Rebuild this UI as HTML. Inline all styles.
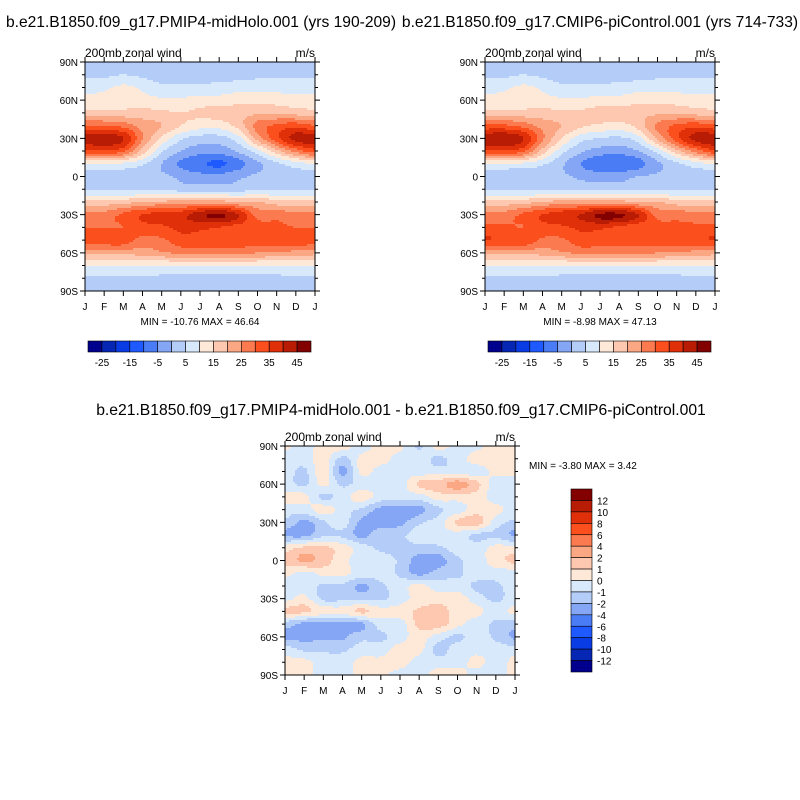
<!DOCTYPE html>
<html><head><meta charset="utf-8">
<style>
body{margin:0;background:#fff;}
svg{display:block;font-family:"Liberation Sans",Arial,sans-serif;}
</style></head><body>
<svg id="s" width="800" height="800" viewBox="0 0 800 800"></svg>
<script>
// ---- data ----
const months = ['J','F','M','A','M','J','J','A','S','O','N','D','J'];
const latLabels = ['90N','60N','30N','0','30S','60S','90S'];
const lats = [90,80,70,60,50,40,30,20,10,0,-10,-20,-30,-40,-50,-60,-70,-80,-90];
const levelsTop = [-25,-20,-15,-10,-5,0,5,10,15,20,25,30,35,40,45];
const levelsDiff = [-12,-10,-8,-6,-4,-2,-1,0,1,2,4,6,8,10,12];
const topBarLabels = ['-25','-15','-5','5','15','25','35','45'];
const diffBarLabels = ['12','10','8','6','4','2','1','0','-1','-2','-4','-6','-8','-10','-12'];
const colors = ['#00008c','#0626b4','#0a3ce6','#1e5aff','#4a7cf5','#84a6f5','#b4ccf8','#d8e9fc','#fee8d8','#fdc7b0','#fca783','#fb7a50','#fb4f1e','#e0300a','#b81c05','#820000'];
const midHolo = [
[3,3,3,3,3,3,3,3,3,3,3,3,3],
[4,4,5,4,3,3,3,3,3,4,4,4,4],
[8,9,11,9,6,6,6,7,8,8,8,8,8],
[12,12,12,12,11,11,12,12,13,13,13,12,12],
[17,17,17,17,16,15,16,17,18,19,19,18,17],
[30,30,28,23,20,15,12,12,17,27,31,33,30],
[42,43,40,25,14,6,3,3,8,22,33,42,42],
[33,34,31,18,6,0,-3,-3,1,8,18,27,33],
[10,10,9,6,0,-6,-9,-11,-7,-1,4,8,10],
[3,3,3,2,1,-1,-3,-3,-1,1,2,3,3],
[4,4,4,4,4,3,3,3,3,4,4,4,4],
[17,17,18,20,21,22,22,22,20,20,17,16,17],
[27,27,31,35,37,38,43,46,40,28,28,27,27],
[30,30,30,33,34,36,36,35,33,32,31,30,30],
[33,33,33,28,29,33,33,33,33,33,33,33,33],
[22,22,22,22,24,26,27,27,26,25,24,23,22],
[10,10,10,10,10,10,10,10,10,10,10,10,10],
[4,4,4,4,4,4,4,4,4,4,4,4,4],
[3,3,3,3,3,3,3,3,3,3,3,3,3]];
const piControl = [
[3,3,3,3,3,3,3,3,3,3,3,3,3],
[4,4,5,4,3,3,3,3,3,4,4,4,4],
[8,9,11,9,6,6,6,7,8,8,8,8,8],
[12,12,12,12,11,11,12,12,13,13,13,12,12],
[17,17,17,17,16,16,17,18,18,19,19,18,17],
[31,31,28,23,20,16,14,13,17,26,31,33,31],
[43,44,40,26,15,7,5,4,8,21,33,42,43],
[34,34,31,18,7,1,-2,-3,0,7,18,27,34],
[10,10,9,6,1,-5,-9,-9,-7,-1,4,8,10],
[2,2,2,2,1,-1,-2,-2,0,1,2,3,2],
[4,4,4,4,4,4,4,4,4,4,4,4,4],
[17,17,18,20,22,22,22,22,20,20,17,16,17],
[27,27,31,35,38,40,46,46,40,28,28,27,27],
[31,31,30,33,34,36,36,34,32,32,31,31,31],
[35,34,34,29,29,33,32,32,32,33,33,34,35],
[22,22,22,22,24,26,26,26,26,25,24,23,22],
[10,10,10,10,10,10,10,10,10,10,10,10,10],
[4,4,4,4,4,4,4,4,4,4,4,4,4],
[3,3,3,3,3,3,3,3,3,3,3,3,3]];
const diff = [
[0.3,-0.5,0.5,0.5,-0.5,0.5,0.3,-1.2,0.5,-0.5,-0.3,0.5,0.5],
[-0.5,-0.5,0.5,-1.3,0.3,0.5,-0.5,-0.5,-1.2,-0.5,0.5,0.5,0.5],
[-0.5,-1.2,0.5,-2.3,0.3,-0.5,-0.5,-0.5,-0.5,-0.5,-0.5,0.3,0.3],
[-0.5,-1.2,0.3,-1.2,-0.5,-0.5,-0.5,1.2,1.5,2.5,1.3,-0.5,-0.5],
[0.3,0.3,-1.2,-0.5,0.5,-0.5,-0.5,-0.5,0.5,0.5,0.5,-0.5,-0.5],
[-0.5,-0.5,0.5,-0.5,-1.2,-2.3,-2.5,-2.3,-1.2,-0.5,0.5,0.3,-0.5],
[-1.2,-2.3,-1.2,-0.5,-2.3,-2.5,-2.3,-1.2,-0.5,1.2,1.5,-0.5,-1.2],
[-2.2,-2.3,-1.2,-1.2,-2.3,-1.2,-1.2,-0.5,-0.5,-0.5,-1.2,-1.2,-2.2],
[0.5,1.2,1.2,0.5,-0.5,-1.2,-1.3,-1.3,-1.2,-0.5,-0.5,0.3,0.3],
[1.2,2.2,1.5,0.3,-0.5,-0.5,-1.2,-2.5,-2.5,-1.2,-0.5,0.5,1.3],
[0.3,-0.3,0.3,0.3,-0.5,-0.5,-1.2,-2.3,-1.5,-1.2,-0.5,-0.5,-0.5],
[-0.5,-0.5,-1.2,-1.2,-2.2,-1.2,-0.5,0.3,-0.5,-0.5,-1.2,-1.2,-0.5],
[-0.3,0.3,-1.2,-1.2,-1.3,-1.2,-0.5,0.4,0.5,0.5,-0.5,-1.2,-0.5],
[1.2,1.2,0.5,0.3,1.2,0.4,0.5,1.2,1.5,0.5,0.3,-0.5,0.3],
[-1.5,-2.3,-2.5,-2.3,-2.2,-0.5,-0.5,1.3,1.5,0.3,-0.5,-1.2,-1.5],
[-2.2,-2.3,-2.2,-2.2,-1.3,-1.2,-0.5,0.5,-0.5,-1.2,-0.5,-1.2,-2.2],
[-0.5,-1.2,-1.2,-1.2,-0.5,-0.5,0.5,0.3,-1.3,-0.5,-0.3,-0.5,-0.5],
[0.3,0.3,-0.5,-0.5,0.3,0.3,0.5,-0.5,-0.5,-0.5,0.3,-0.5,0.3],
[0.3,0.3,-0.5,-0.5,0.3,0.3,-0.5,-0.5,0.5,0.5,-0.5,-0.5,0.3]];

const NS='http://www.w3.org/2000/svg';
const svg=document.getElementById('s');
function mk(tag,attrs,parent){const e=document.createElementNS(NS,tag);for(const k in attrs)e.setAttribute(k,attrs[k]);(parent||svg).appendChild(e);return e;}
function txt(str,x,y,size,anchor,parent,name){const t=mk('text',{x:x,y:y,'font-size':size,'text-anchor':anchor||'start',fill:'#000'},parent);t.textContent=str;


return t;}
function classify(v,levels){let i=0;while(i<levels.length&&v>=levels[i])i++;return i;}
function cr(p0,p1,p2,p3,t){return 0.5*((2*p1)+(-p0+p2)*t+(2*p0-5*p1+4*p2-p3)*t*t+(-p0+3*p1-3*p2+p3)*t*t*t);}
function sample(grid,fx,fy){
 const nx=grid[0].length,ny=grid.length;
 const x1=Math.min(Math.floor(fx),nx-2),y1=Math.min(Math.floor(fy),ny-2);
 const tx=fx-x1,ty=fy-y1;
 const gx=i=>Math.max(0,Math.min(nx-1,i)),gy=j=>Math.max(0,Math.min(ny-1,j));
 const rows=[];
 for(let j=-1;j<=2;j++){const r=grid[gy(y1+j)];rows.push(cr(r[gx(x1-1)],r[gx(x1)],r[gx(x1+1)],r[gx(x1+2)],tx));}
 return cr(rows[0],rows[1],rows[2],rows[3],ty);}

function panel(name,grid,levels,x0,y0,w,h,title,minmax,mmx,mmy,mmAnchor){
 const g=mk('g',{});
 
 
 const xs=v=>x0+v/12*w;
 const ys=lat=>y0+(90-lat)/180*h;
 const cell=2;
 const fld=mk('g',{'shape-rendering':'crispEdges'},g);
 
 
 for(let py=0;py<h;py+=cell){
  const lat=90-(py+cell/2)/h*180;
  const fy=(90-lat)/10;
  let runStart=0,runCls=-1;
  for(let px=0;px<=w;px+=cell){
   let cls=-2;
   if(px<w){const fx=(px+cell/2)/w*12;cls=classify(sample(grid,fx,fy),levels);}
   if(cls!==runCls){
    if(runCls>=0){const r=mk('rect',{x:x0+runStart,y:y0+py,width:Math.min(px,w)-runStart,height:Math.min(cell,h-py),fill:colors[runCls]},fld);
     
     }
    runStart=px;runCls=cls;}
  }
 }
 const fr=mk('rect',{x:x0,y:y0,width:w,height:h,fill:'none',stroke:'#000','stroke-width':1},g);
 
 
 let tk='';
 for(let lat=90;lat>=-90;lat-=10){const y=ys(lat);const L=(lat%30===0)?5:3;tk+=`M${x0-L} ${y}H${x0}M${x0+w} ${y}H${x0+w+L}`;}
 for(let m=0;m<=12;m++){const x=xs(m);tk+=`M${x} ${y0+h}V${y0+h+5}M${x} ${y0}V${y0-5}`;}
 const tp=mk('path',{d:tk,stroke:'#000','stroke-width':1,fill:'none'},g);
 
 
 latLabels.forEach((l,i)=>txt(l,x0-7,ys(90-30*i)+4,10,'end',g,'y-tick-label'));
 months.forEach((m,i)=>txt(m,xs(i),y0+h+19,10,'middle',g,'x-tick-label'));
 txt('200mb zonal wind',x0,y0-5,12,'start',g,'subtitle');
 txt('m/s',x0+w,y0-5,12,'end',g,'units-label');
 txt(title[0],title[1],title[2],title[3],'middle',g,'panel-title');
 txt(minmax,mmx,mmy,10,mmAnchor,g,'min-max-label');
}
panel('panel-midholo',midHolo,levelsTop,85,62,230,229,['b.e21.B1850.f09_g17.PMIP4-midHolo.001 (yrs 190-209)',201,27,15.6],'MIN = -10.76 MAX =  46.64',200,325,'middle');
panel('panel-picontrol',piControl,levelsTop,485,62,230,229,['b.e21.B1850.f09_g17.CMIP6-piControl.001 (yrs 714-733)',600,27,15.6],'MIN = -8.98 MAX = 47.13',600,325,'middle');
panel('panel-difference',diff,levelsDiff,285,446,230,229,['b.e21.B1850.f09_g17.PMIP4-midHolo.001 - b.e21.B1850.f09_g17.CMIP6-piControl.001',401,415,15.7],'MIN =  -3.80 MAX =   3.42',529,469,'start');

[[88,'colorbar-midholo'],[488,'colorbar-picontrol']].forEach(([bx,nm])=>{
 const g=mk('g',{});
 
 
 const bw=223/16;
 colors.forEach((c,i)=>{const r=mk('rect',{x:bx+i*bw,y:341,width:bw,height:11,fill:c,stroke:'#000','stroke-width':0.6},g);
  
  });
 topBarLabels.forEach((l,i)=>txt(l,bx+(1+2*i)*bw,366,10,'middle',g,'colorbar-label'));
});
{
 const g=mk('g',{});
 
 
 const bh=183/16;
 colors.slice().reverse().forEach((c,i)=>{const r=mk('rect',{x:571,y:489+i*bh,width:21,height:bh,fill:c,stroke:'#000','stroke-width':0.6},g);
  
  });
 diffBarLabels.forEach((l,i)=>txt(l,597,489+(i+1)*bh+4,10,'start',g,'colorbar-label'));
}
</script>
</body></html>
